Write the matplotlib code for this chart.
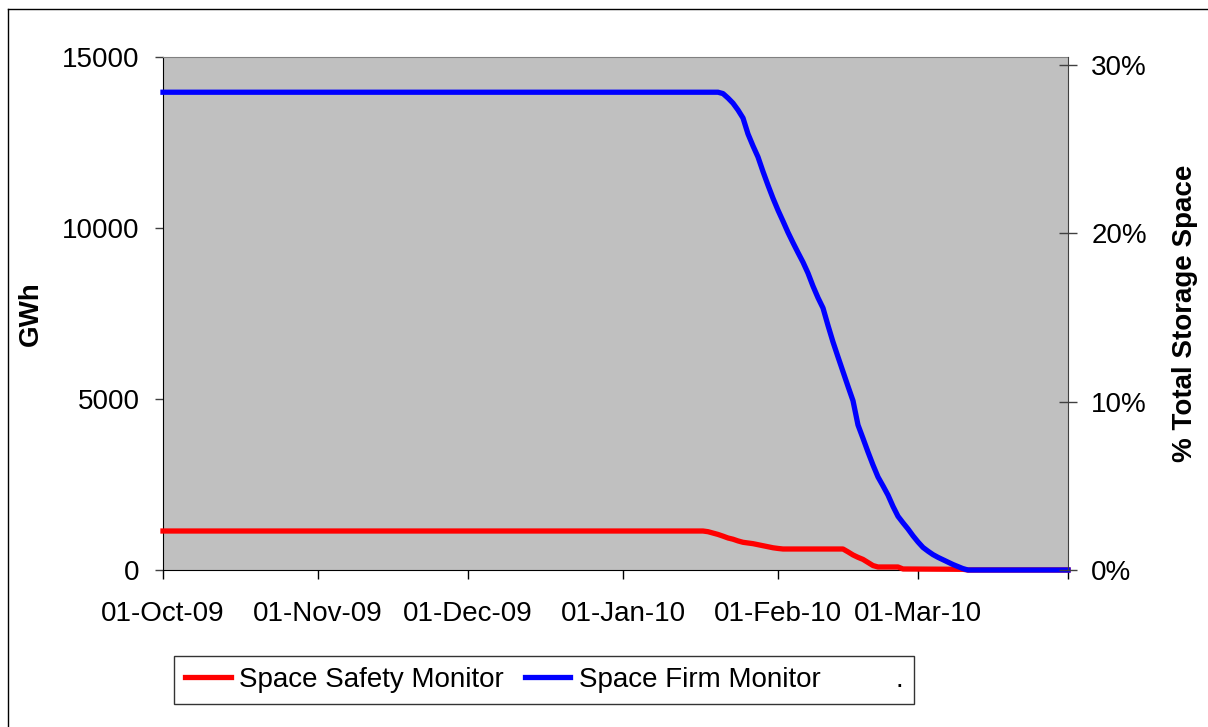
import pandas as pd
import matplotlib
matplotlib.use('Agg')
import matplotlib.pyplot as plt
import matplotlib.dates as mdates
from matplotlib.lines import Line2D
from matplotlib.ticker import FixedLocator, FuncFormatter

plt.rcParams['font.family'] = ['Liberation Sans', 'DejaVu Sans']

# Space Firm Monitor (GWh)
firm_dates = ['2009-10-01', '2010-01-20', '2010-01-21', '2010-01-22', '2010-01-23', '2010-01-24',
              '2010-01-25', '2010-01-26', '2010-01-27', '2010-01-28', '2010-01-29', '2010-01-30',
              '2010-01-31', '2010-02-01', '2010-02-02', '2010-02-03', '2010-02-04', '2010-02-05',
              '2010-02-06', '2010-02-07', '2010-02-08', '2010-02-09', '2010-02-10', '2010-02-11',
              '2010-02-12', '2010-02-13', '2010-02-14', '2010-02-15', '2010-02-16', '2010-02-17',
              '2010-02-18', '2010-02-19', '2010-02-20', '2010-02-21', '2010-02-22', '2010-02-23',
              '2010-02-24', '2010-02-25', '2010-02-26', '2010-02-27', '2010-02-28', '2010-03-01',
              '2010-03-02', '2010-03-03', '2010-03-04', '2010-03-05', '2010-03-06', '2010-03-07',
              '2010-03-08', '2010-03-09', '2010-03-10', '2010-03-11', '2010-03-31']
firm_gwh = [13970, 13970, 13930, 13800, 13650, 13450,
            13216, 12750, 12400, 12076, 11650, 11250,
            10870, 10520, 10200, 9870, 9570, 9280,
            9000, 8680, 8300, 7960, 7661, 7150,
            6667, 6230, 5800, 5370, 4950, 4240,
            3850, 3450, 3070, 2720, 2460, 2190,
            1860, 1570, 1380, 1200, 1000, 820,
            660, 550, 450, 370, 300, 230,
            160, 100, 40, 0, 0]

# Space Safety Monitor (GWh)
safety_dates = ['2009-10-01', '2010-01-17', '2010-01-18', '2010-01-19', '2010-01-20', '2010-01-21',
                '2010-01-22', '2010-01-23', '2010-01-24', '2010-01-25', '2010-01-26', '2010-01-27',
                '2010-01-28', '2010-01-29', '2010-01-30', '2010-01-31', '2010-02-01', '2010-02-02',
                '2010-02-14', '2010-02-15', '2010-02-16', '2010-02-17', '2010-02-18', '2010-02-19',
                '2010-02-20', '2010-02-21', '2010-02-25', '2010-02-26', '2010-03-10', '2010-03-11',
                '2010-03-31']
safety_gwh = [1140, 1140, 1120, 1080, 1040, 990,
              936, 900, 850, 810, 790, 770,
              740, 710, 680, 650, 630, 614,
              614, 530, 440, 370, 310, 220,
              130, 88, 88, 30, 20, 0,
              0]

tick_dates = ['2009-10-01', '2009-11-01', '2009-12-01', '2010-01-01', '2010-02-01', '2010-03-01', '2010-03-31']
tick_labels = ['01-Oct-09', '01-Nov-09', '01-Dec-09', '01-Jan-10', '01-Feb-10', '01-Mar-10', '']
left_ticks = [0, 5000, 10000, 15000]
right_ticks = [0, 10, 20, 30]
right_max = 30.45

fig = plt.figure(figsize=(12.08, 7.27), dpi=100)
ax = fig.add_axes([163 / 1208, 1 - 570 / 727, 905 / 1208, 513 / 727])
ax.set_facecolor('#C0C0C0')

ax.plot(pd.to_datetime(safety_dates), safety_gwh, color='#FF0000', lw=3.8,
        label='Space Safety Monitor', clip_on=False, zorder=3)
ax.plot(pd.to_datetime(firm_dates), firm_gwh, color='#0000FF', lw=3.8,
        label='Space Firm Monitor', clip_on=False, zorder=4)

ax.set_xlim(pd.Timestamp('2009-10-01'), pd.Timestamp('2010-03-31'))
ax.set_ylim(0, 15000)
ax.set_yticks(left_ticks)
ax.set_yticklabels([str(v) for v in left_ticks])
ax.xaxis.set_major_locator(FixedLocator(mdates.date2num(pd.to_datetime(tick_dates))))
ax.set_xticklabels(tick_labels)
ax.tick_params(axis='x', direction='out', length=6.5, width=1, pad=16, labelsize=20)
ax.tick_params(axis='y', direction='out', length=6, width=1, pad=11, labelsize=20,
               color='#404040')
ax.set_ylabel('GWh', fontsize=20, fontweight='bold')
ax.yaxis.set_label_coords(-0.1315, 0.5)

ax.spines['left'].set_color('black')
ax.spines['bottom'].set_color('black')
ax.spines['top'].set_color('#808080')
ax.spines['right'].set_visible(False)

ax2 = ax.twinx()
ax2.set_ylim(0, right_max)
ax2.set_yticks(right_ticks)
ax2.yaxis.set_major_formatter(FuncFormatter(lambda v, p: '%d%%' % v))
ax2.tick_params(axis='y', direction='inout', length=13.5, width=1, pad=10, labelsize=20,
                color='#404040')
ax2.set_ylabel('% Total Storage Space', fontsize=20, fontweight='bold')
ax2.yaxis.set_label_coords(1.115, 0.5)
ax2.spines['right'].set_color('#404040')
for s in ['left', 'top', 'bottom']:
    ax2.spines[s].set_visible(False)

handles = ax.get_lines() + [Line2D([], [], color='none', lw=3.8)]
labels = ['Space Safety Monitor', 'Space Firm Monitor', '.']
leg = fig.legend(handles, labels, loc='center', bbox_to_anchor=(544 / 1208, 1 - 680 / 727),
                 ncol=3, fontsize=20, frameon=True, fancybox=False, shadow=False,
                 handlelength=1.65, handletextpad=0.3, columnspacing=0.75, borderpad=0.38)
leg.get_frame().set_edgecolor('black')
leg.get_frame().set_linewidth(1)

# outer chart border (top and left visible)
fig.add_artist(Line2D([8 / 1208, 8 / 1208], [0, 1 - 9 / 727], transform=fig.transFigure,
                      color='black', lw=1))
fig.add_artist(Line2D([8 / 1208, 1], [1 - 9 / 727, 1 - 9 / 727], transform=fig.transFigure,
                      color='black', lw=1))

fig.savefig('out.png', dpi=100)
